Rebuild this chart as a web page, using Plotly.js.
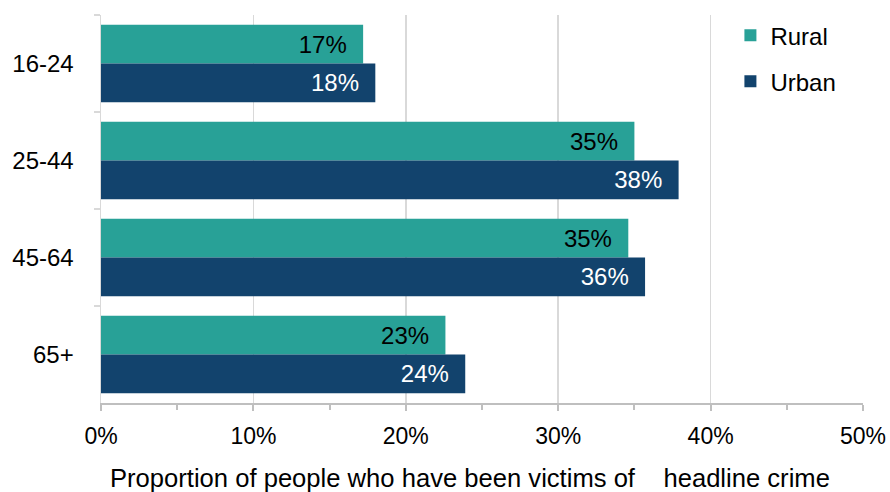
<!DOCTYPE html>
<html>
<head>
<meta charset="utf-8">
<script src="https://cdn.plot.ly/plotly-3.0.1.min.js"></script>
<style>html,body{margin:0;padding:0;background:#fff;}#chart{width:890px;height:492px;}</style>
</head>
<body>
<div id="chart"></div>
<script>
const ageGroups = ["16-24", "25-44", "45-64", "65+"];
const ruralValues = [17.2, 35.0, 34.6, 22.6];
const urbanValues = [18.0, 37.9, 35.7, 23.9];
const ruralLabels = ["17%", "35%", "35%", "23%"];
const urbanLabels = ["18%", "38%", "36%", "24%"];
const xTickValues = [0, 10, 20, 30, 40, 50];
const xTickLabels = ["0%", "10%", "20%", "30%", "40%", "50%"];
const seriesNames = ["Rural", "Urban"];
const xTitle = "Proportion of people who have been victims of \u00a0\u00a0\u00a0headline crime";

const pad = "\u00a0\u00a0";
const FONT = "Liberation Sans, Arial, sans-serif";

const traces = [
  {
    type: "bar", orientation: "h", name: seriesNames[0], legendgroup: "r",
    y: ageGroups, x: ruralValues,
    text: ruralLabels.map(t => t + pad), textposition: "inside", insidetextanchor: "end",
    textangle: 0, constraintext: "none",
    insidetextfont: {family: FONT, size: 24, color: "#000000"},
    marker: {color: "#28A197", line: {width: 0}},
    hoverinfo: "skip"
  },
  {
    type: "bar", orientation: "h", name: seriesNames[1], legendgroup: "u",
    y: ageGroups, x: urbanValues,
    text: urbanLabels.map(t => t + pad), textposition: "inside", insidetextanchor: "end",
    textangle: 0, constraintext: "none",
    insidetextfont: {family: FONT, size: 24, color: "#ffffff"},
    marker: {color: "#12436D", line: {width: 0}},
    hoverinfo: "skip"
  }
];

const layout = {
  width: 890, height: 492,
  margin: {l: 101, r: 27, t: 15, b: 89},
  paper_bgcolor: "#ffffff", plot_bgcolor: "#ffffff",
  font: {family: FONT, size: 24, color: "#000000"},
  barmode: "group", bargap: 0.2, bargroupgap: 0,
  showlegend: true,
  legend: {
    x: 0.826, y: 1.005, xanchor: "left", yanchor: "top",
    traceorder: "grouped", tracegroupgap: 12,
    font: {family: FONT, size: 24, color: "#000000"},
    bgcolor: "rgba(0,0,0,0)", itemwidth: 30
  },
  xaxis: {
    range: [0, 50], tickvals: xTickValues, ticktext: xTickLabels,
    showgrid: true, gridcolor: "#d9d9d9", gridwidth: 1.5,
    zeroline: false,
    showline: true, linecolor: "#bfbfbf", linewidth: 2,
    ticks: "outside", ticklen: 6, tickwidth: 2, tickcolor: "#bfbfbf",
    minor: {dtick: 5, tick0: 0, ticks: "outside", ticklen: 5, tickwidth: 2, tickcolor: "#bfbfbf", showgrid: false},
    tickfont: {family: FONT, size: 23, color: "#000000"},
    ticklabelstandoff: 5,
    automargin: false, fixedrange: true
  },
  yaxis: {
    autorange: "reversed", type: "category",
    showgrid: false, zeroline: false,
    showline: true, linecolor: "#d9d9d9", linewidth: 1.5,
    ticks: "outside", tickson: "boundaries", ticklen: 6, tickwidth: 1.5, tickcolor: "#d9d9d9",
    tickfont: {family: FONT, size: 24, color: "#000000"},
    ticklabelstandoff: 21,
    automargin: false, fixedrange: true
  },
  annotations: [{
    text: xTitle, xref: "paper", yref: "paper",
    x: 0.4845, y: -0.193, xanchor: "center", yanchor: "middle",
    showarrow: false, font: {family: FONT, size: 25.6, color: "#000000"}
  }]
};

Plotly.newPlot("chart", traces, layout, {staticPlot: true, displayModeBar: false});
</script>
</body>
</html>
